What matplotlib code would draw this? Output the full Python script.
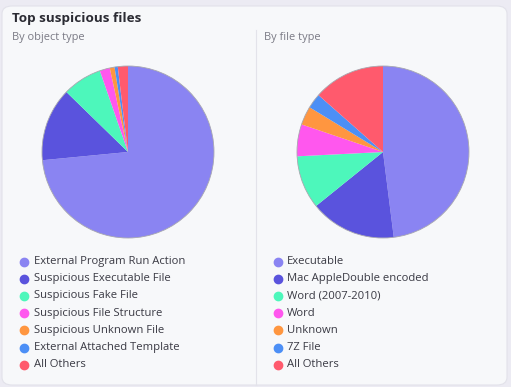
import matplotlib.pyplot as plt
from matplotlib.patches import FancyBboxPatch, Circle
from matplotlib.lines import Line2D

W, H = 511, 387
FONT = "Open Sans"

# dados
obj_labels = ["External Program Run Action", "Suspicious Executable File",
              "Suspicious Fake File", "Suspicious File Structure",
              "Suspicious Unknown File", "External Attached Template", "All Others"]
obj_values = [73.4, 13.8, 7.4, 1.9, 0.9, 0.6, 1.9]

file_labels = ["Executable", "Mac AppleDouble encoded", "Word (2007-2010)",
               "Word", "Unknown", "7Z File", "All Others"]
file_values = [48.0, 16.2, 10.0, 6.0, 3.5, 2.8, 13.5]

colors = ["#8A84F2", "#5A53DD", "#4DF7BB", "#FF57EE", "#FF9640", "#4C8FF6", "#FF5A6D"]


def px_axes(fig, cx, cy, r):
    # eixo quadrado centrado em (cx, cy) em pixels (origem em cima)
    r2 = r * 1.03
    return fig.add_axes([(cx - r2) / W, (H - cy - r2) / H, 2 * r2 / W, 2 * r2 / H])


def draw_pie(fig, cx, cy, r, values):
    ax = px_axes(fig, cx, cy, r)
    ax.pie(values, colors=colors, startangle=90, counterclock=False,
           wedgeprops=dict(linewidth=0))
    ax.add_patch(Circle((0, 0), 1, fill=False, edgecolor="#a8a8b0", linewidth=0.6))
    ax.set_xlim(-1.03, 1.03)
    ax.set_ylim(-1.03, 1.03)
    ax.set_aspect("equal")
    ax.axis("off")


def draw_legend(fig, x_dot, x_txt, y0, labels):
    for i, lab in enumerate(labels):
        y = 1 - (y0 + i * 17.2) / H
        fig.add_artist(Line2D([x_dot / W], [y], marker="o", markersize=6,
                              color=colors[i], linestyle="none"))
        fig.text(x_txt / W, y, lab, fontsize=8.1, color="#3a3a44",
                 family=FONT, va="center", ha="left")


def main():
    fig = plt.figure(figsize=(W / 100, H / 100), dpi=100)
    fig.patch.set_facecolor("#ECEBF3")

    card = FancyBboxPatch((2 / W, 2 / H), (W - 6) / W, (H - 8) / H,
                          boxstyle="round,pad=0,rounding_size=0.02",
                          transform=fig.transFigure, facecolor="#F7F8FA",
                          edgecolor="#E2E2EA", linewidth=0.8, zorder=-2)
    fig.add_artist(card)

    # divisória
    fig.add_artist(Line2D([255.5 / W, 255.5 / W], [1 - 30 / H, 1 - 385 / H],
                          color="#E3E3EA", linewidth=0.8, zorder=-1))

    fig.text(12 / W, 1 - 18.5 / H, "Top suspicious files", fontsize=9.7,
             fontweight="bold", color="#2b2b33", family=FONT, va="center")
    fig.text(12 / W, 1 - 37.5 / H, "By object type", fontsize=7.9,
             color="#7a7a85", family=FONT, va="center")
    fig.text(264 / W, 1 - 37.5 / H, "By file type", fontsize=7.9,
             color="#7a7a85", family=FONT, va="center")

    draw_pie(fig, 128, 152, 86, obj_values)
    draw_pie(fig, 383, 152, 86, file_values)

    draw_legend(fig, 24, 34, 261.5, obj_labels)
    draw_legend(fig, 278, 287, 261.5, file_labels)

    fig.savefig("out.png", dpi=100, facecolor=fig.get_facecolor())


if __name__ == "__main__":
    main()
